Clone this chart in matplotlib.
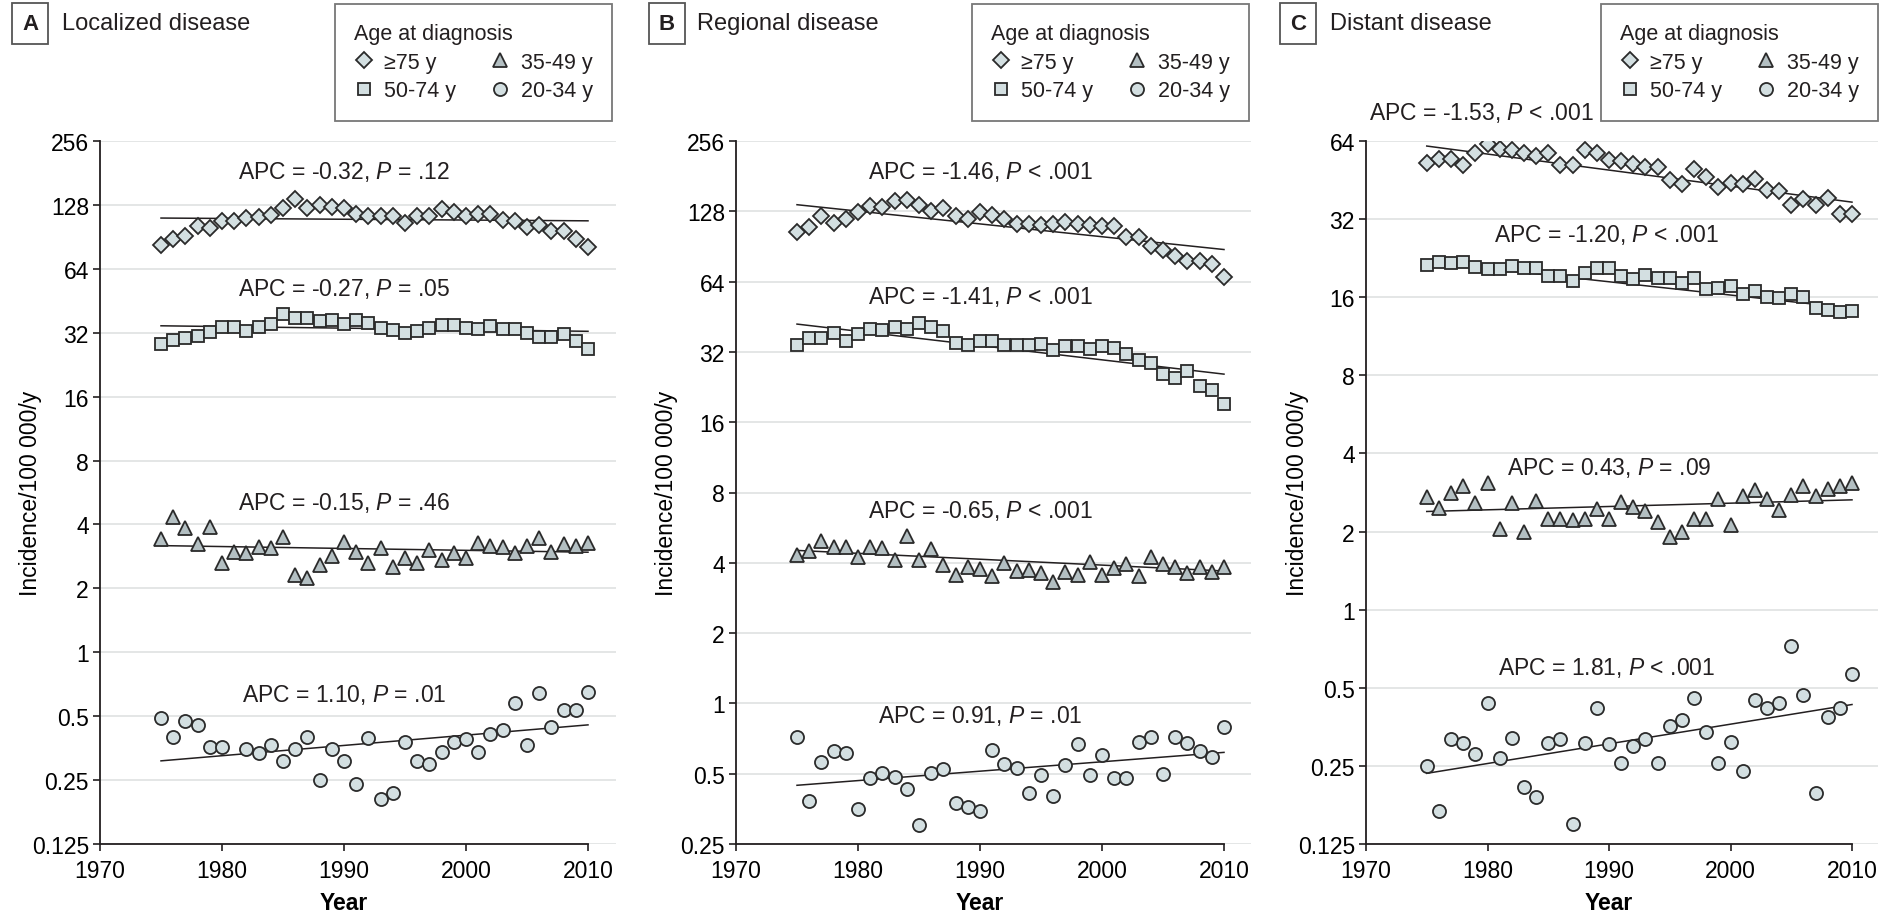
import matplotlib
matplotlib.use("Agg")
import matplotlib.pyplot as plt

plt.rcParams['font.family'] = ['Liberation Sans', 'DejaVu Sans']
plt.rcParams['mathtext.fontset'] = 'custom'
plt.rcParams['mathtext.rm'] = 'Liberation Sans'
plt.rcParams['mathtext.it'] = 'Liberation Sans:italic'
plt.rcParams['text.color'] = '#231f20'

years = list(range(1975, 2011))
groups = ['≥75 y', '50-74 y', '35-49 y', '20-34 y']
nan = float('nan')

# A - localized disease (incidence per 100 000)
loc_75 = [82.6, 88.8, 91.0, 101.3, 99.5, 107.7, 107.7, 110.9, 112.1, 114.9, 124.4, 136.1,
          124.4, 128.0, 125.7, 124.4, 115.8, 112.9, 112.9, 112.9, 105.1, 112.9, 112.9, 122.6,
          119.1, 114.1, 115.8, 115.8, 108.9, 107.7, 100.3, 102.5, 96.0, 96.0, 88.8, 80.8]
loc_50 = [28.3, 29.7, 30.1, 30.8, 32.1, 34.2, 34.0, 32.5, 33.9, 35.3, 39.4, 37.4,
          37.4, 36.5, 36.8, 35.1, 36.8, 35.7, 33.8, 33.0, 31.8, 32.5, 33.6, 34.8,
          34.7, 33.8, 33.5, 34.5, 33.3, 33.5, 32.0, 30.7, 30.5, 31.5, 29.2, 26.7]
loc_35 = [3.41, 4.34, 3.83, 3.23, 3.90, 2.63, 2.96, 2.93, 3.14, 3.11, 3.50, 2.32,
          2.25, 2.58, 2.85, 3.29, 2.98, 2.63, 3.09, 2.53, 2.79, 2.63, 3.03, 2.72,
          2.93, 2.77, 3.26, 3.18, 3.14, 2.93, 3.18, 3.47, 2.96, 3.23, 3.18, 3.26]
loc_20 = [0.491, 0.397, 0.477, 0.455, 0.359, 0.359, nan, 0.349, 0.337, 0.367, 0.306, 0.349,
          0.397, 0.249, 0.349, 0.306, 0.239, 0.393, 0.204, 0.218, 0.379, 0.308, 0.299, 0.339,
          0.376, 0.390, 0.339, 0.412, 0.432, 0.579, 0.366, 0.643, 0.446, 0.532, 0.532, 0.650]
loc_trend_start = [111.0, 34.5, 3.18, 0.308]
loc_trend_end = [107.7, 32.5, 2.96, 0.455]
loc_apc = ['APC = -0.32, $P$ = .12', 'APC = -0.27, $P$ = .05',
           'APC = -0.15, $P$ = .46', 'APC = 1.10, $P$ = .01']

# B - regional disease
reg_75 = [103.9, 109.2, 121.9, 114.1, 119.1, 127.2, 134.4, 133.1, 141.3, 143.6, 135.8, 128.0,
          132.3, 121.9, 119.1, 127.2, 123.1, 119.1, 113.0, 113.0, 112.2, 113.0, 115.2, 113.0,
          112.2, 110.4, 110.4, 99.2, 99.2, 90.7, 87.8, 82.1, 78.2, 78.2, 76.2, 66.8]
reg_50 = [34.2, 36.8, 36.8, 38.7, 35.7, 38.2, 40.2, 39.7, 41.1, 40.2, 42.4, 41.1,
          39.4, 35.0, 34.2, 35.6, 35.7, 34.4, 34.2, 34.4, 34.7, 32.5, 33.9, 33.9,
          32.8, 33.9, 33.1, 31.2, 29.6, 28.7, 25.7, 24.7, 26.6, 22.9, 21.9, 19.1]
reg_35 = [4.34, 4.50, 4.96, 4.69, 4.69, 4.24, 4.69, 4.64, 4.11, 5.23, 4.11, 4.58,
          3.93, 3.55, 3.84, 3.76, 3.52, 4.01, 3.69, 3.72, 3.60, 3.32, 3.66, 3.55,
          4.04, 3.56, 3.81, 3.97, 3.52, 4.24, 3.97, 3.84, 3.60, 3.84, 3.64, 3.84]
reg_20 = [0.720, 0.383, 0.560, 0.628, 0.614, 0.352, 0.481, 0.503, 0.484, 0.429, 0.301, 0.505,
          0.522, 0.373, 0.359, 0.347, 0.632, 0.551, 0.528, 0.414, 0.492, 0.402, 0.546, 0.670,
          0.492, 0.602, 0.481, 0.481, 0.681, 0.720, 0.500, 0.715, 0.677, 0.624, 0.588, 0.796]
reg_trend_start = [136.6, 42.1, 4.52, 0.446]
reg_trend_end = [87.8, 25.7, 3.69, 0.617]
reg_apc = ['APC = -1.46, $P$ < .001', 'APC = -1.41, $P$ < .001',
           'APC = -0.65, $P$ < .001', 'APC = 0.91, $P$ = .01']

# C - distant disease
dist_75 = [52.6, 54.6, 54.6, 51.7, 57.7, 62.5, 59.5, 59.0, 57.7, 55.8, 57.4, 51.9,
           51.9, 59.1, 57.7, 54.3, 53.8, 52.0, 51.0, 50.8, 45.3, 43.7, 50.1, 46.4,
           42.5, 44.1, 43.7, 45.7, 41.6, 40.9, 36.4, 38.4, 36.4, 38.7, 33.4, 33.6]
dist_50 = [21.3, 21.9, 21.6, 21.9, 20.9, 20.6, 20.6, 21.2, 20.8, 20.8, 19.4, 19.4,
           18.4, 19.8, 20.8, 20.8, 19.3, 18.8, 19.5, 18.9, 18.9, 18.1, 19.0, 17.2,
           17.4, 17.7, 16.4, 16.9, 16.0, 15.9, 16.4, 16.1, 14.5, 14.3, 14.0, 14.2]
dist_35 = [2.71, 2.46, 2.82, 2.99, 2.58, 3.07, 2.05, 2.58, 1.99, 2.63, 2.24, 2.24,
           2.21, 2.24, 2.44, 2.24, 2.59, 2.48, 2.41, 2.18, 1.90, 2.00, 2.24, 2.24,
           2.67, 2.12, 2.73, 2.90, 2.67, 2.43, 2.77, 2.99, 2.73, 2.92, 2.99, 3.07]
dist_20 = [0.249, 0.168, 0.316, 0.306, 0.278, 0.438, 0.268, 0.319, 0.208, 0.189, 0.306, 0.317,
           0.149, 0.306, 0.419, 0.304, 0.256, 0.299, 0.316, 0.256, 0.357, 0.375, 0.457, 0.337,
           0.257, 0.308, 0.238, 0.448, 0.419, 0.438, 0.725, 0.467, 0.197, 0.386, 0.419, 0.567]
dist_trend_start = [61.2, 21.9, 2.39, 0.234]
dist_trend_end = [37.2, 14.5, 2.65, 0.431]
dist_apc = ['APC = -1.53, $P$ < .001', 'APC = -1.20, $P$ < .001',
            'APC = 0.43, $P$ = .09', 'APC = 1.81, $P$ < .001']

# figure is laid out in pixels of the 1885 x 920 image
W, H = 1885, 920
fig = plt.figure(figsize=(W / 100, H / 100), dpi=100)

panels = [
    # letter, title, data, trends, apc, y ticks, axes left/right px, px per year, letter box x, title x, legend right px, apc text positions
    ('A', 'Localized disease', [loc_75, loc_50, loc_35, loc_20], loc_trend_start, loc_trend_end, loc_apc,
     [0.125, 0.25, 0.5, 1, 2, 4, 8, 16, 32, 64, 128, 256], 100, 616, 12.2, 30, 62, 612,
     [(1990, 185), (1990, 52), (1990, 5.12), (1990, 0.636)]),
    ('B', 'Regional disease', [reg_75, reg_50, reg_35, reg_20], reg_trend_start, reg_trend_end, reg_apc,
     [0.25, 0.5, 1, 2, 4, 8, 16, 32, 64, 128, 256], 736, 1251, 12.2, 667, 697, 1249,
     [(1990, 190), (1990, 55.7), (1990, 6.74), (1990, 0.889)]),
    ('C', 'Distant disease', [dist_75, dist_50, dist_35, dist_20], dist_trend_start, dist_trend_end, dist_apc,
     [0.125, 0.25, 0.5, 1, 2, 4, 8, 16, 32, 64], 1366, 1878, 12.15, 1298, 1330, 1878,
     [(1979.5, 82.6), (1989.8, 28.1), (1990, 3.55), (1989.8, 0.60)]),
]

markers = ['D', 's', '^', 'o']
msizes = [8.0, 9.0, 10.0, 9.4]
fills = ['#d3dfe1', '#d3dfe1', '#b3bfc2', '#d3dfe1']
edge = '#2a2a2a'

for (letter, title, series, t0, t1, apc, yt, left, right, ppy, box_x, title_x, leg_right, apc_pos) in panels:
    ax = fig.add_axes([left / W, 75 / H, (right - left) / W, 703 / H])
    ax.set_yscale('log', base=2)
    ax.set_ylim(yt[0], yt[-1])
    ax.set_xlim(1970, 1970 + (right - left) / ppy)

    handles = []
    for i in range(4):
        h, = ax.plot(years, series[i], linestyle='none', marker=markers[i], ms=msizes[i],
                     mfc=fills[i], mec=edge, mew=1.3, label=groups[i], zorder=3)
        handles.append(h)
        ax.plot([years[0], years[-1]], [t0[i], t1[i]], color='#231f20', lw=1.1, zorder=2)
        ax.text(apc_pos[i][0], apc_pos[i][1], apc[i], ha='center', va='center', fontsize=16.5)

    ax.set_yticks(yt)
    ax.set_yticklabels([('%g' % v) for v in yt])
    ax.yaxis.set_minor_locator(matplotlib.ticker.NullLocator())
    ax.set_xticks([1970, 1980, 1990, 2000, 2010])
    ax.tick_params(labelsize=16.5, length=5, width=1.2, color='#231f20', pad=3)
    ax.tick_params(axis='x', pad=6)
    ax.grid(axis='y', color='#e4e6e6', lw=1.4, zorder=0)
    for s in ['top', 'right']:
        ax.spines[s].set_visible(False)
    for s in ['left', 'bottom']:
        ax.spines[s].set_linewidth(1.3)
        ax.spines[s].set_color('#231f20')
    ax.spines['bottom'].set_bounds(1970, 2010)

    ax.set_ylabel('Incidence/100 000/y', fontsize=16.5)
    ax.yaxis.set_label_coords(-0.112, 0.5)
    ax.set_xlabel('Year', fontsize=16.5, fontweight='bold', va='center')
    ax.xaxis.set_label_coords((1990 - 1970) * ppy / (right - left), -0.083)

    leg = ax.legend(handles=handles, title='Age at diagnosis', ncol=2, loc='upper right',
                    bbox_to_anchor=(leg_right / W, 1 - 5 / H), bbox_transform=fig.transFigure,
                    fontsize=15.5, title_fontsize=15.5, alignment='left', fancybox=False,
                    edgecolor='#555555', handlelength=0.9, handletextpad=0.5, columnspacing=1.6,
                    borderpad=0.9, labelspacing=0.35, borderaxespad=0)
    leg.get_frame().set_linewidth(1.3)

    fig.text(box_x / W, 1 - 24 / H, letter, ha='center', va='center', fontsize=16, fontweight='bold',
             bbox=dict(boxstyle='square,pad=0.45', fc='white', ec='#555555', lw=1.3))
    fig.text(title_x / W, 1 - 24 / H, title, ha='left', va='center', fontsize=17)

fig.savefig('out.png', dpi=100)
